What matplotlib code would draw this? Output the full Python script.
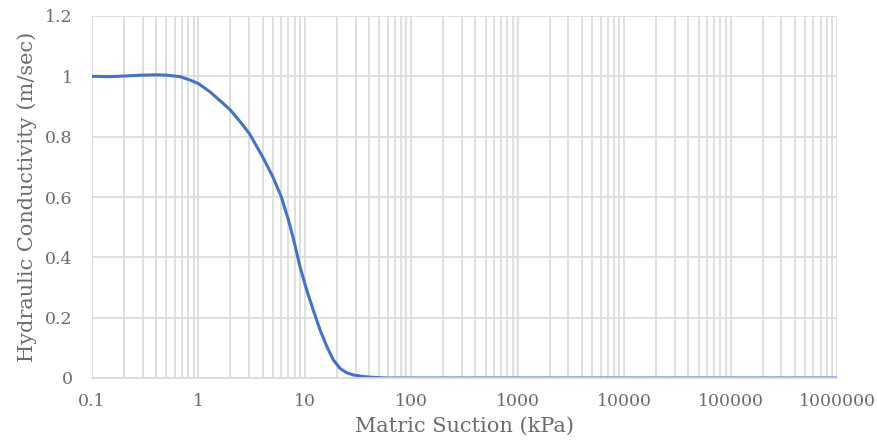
import matplotlib
matplotlib.use("Agg")
import matplotlib.pyplot as plt
from matplotlib.ticker import LogLocator, FixedLocator, FixedFormatter, NullFormatter

suction = [0.1, 0.15, 0.2, 0.3, 0.4, 0.5, 0.67, 0.83, 1.0, 1.28, 1.6, 2.0, 2.5,
           3.0, 4.0, 5.0, 6.0, 7.0, 7.8, 9.0, 10.4, 12.0, 13.9, 16.1, 18.5,
           21.4, 24.5, 28.6, 35, 44, 60, 100, 1000, 10000, 100000, 1000000]
conductivity = [1.0, 0.999, 1.001, 1.004, 1.005, 1.004, 0.999, 0.988, 0.976,
                0.949, 0.919, 0.888, 0.847, 0.811, 0.734, 0.667, 0.601, 0.524,
                0.462, 0.369, 0.292, 0.225, 0.159, 0.104, 0.060, 0.032, 0.018,
                0.010, 0.005, 0.002, 0.0, 0.0, 0.0, 0.0, 0.0, 0.0]

xticks = [0.1, 1, 10, 100, 1000, 10000, 100000, 1000000]
xtick_labels = ["0.1", "1", "10", "100", "1000", "10000", "100000", "1000000"]
yticks = [0, 0.2, 0.4, 0.6, 0.8, 1.0, 1.2]
ytick_labels = ["0", "0.2", "0.4", "0.6", "0.8", "1", "1.2"]

plt.rcParams['font.family'] = ['DejaVu Serif', 'Liberation Serif']
text_color = "#6b6b6b"
grid_color = "#d9d9d9"

fig = plt.figure(figsize=(8.78, 4.43), dpi=100)
ax = fig.add_axes([92/878, 65/443, 745/878, 362/443])

ax.set_xscale("log")
ax.set_xlim(0.1, 1000000)
ax.set_ylim(0, 1.2)

ax.xaxis.set_major_locator(FixedLocator(xticks))
ax.xaxis.set_major_formatter(FixedFormatter(xtick_labels))
ax.xaxis.set_minor_locator(LogLocator(base=10, subs=range(2, 10), numticks=100))
ax.xaxis.set_minor_formatter(NullFormatter())
ax.yaxis.set_major_locator(FixedLocator(yticks))
ax.yaxis.set_major_formatter(FixedFormatter(ytick_labels))

ax.grid(True, which="both", axis="x", color=grid_color, linewidth=1.2)
ax.grid(True, which="major", axis="y", color=grid_color, linewidth=1.2)
ax.set_axisbelow(True)

for s in ax.spines.values():
    s.set_visible(False)
ax.spines["bottom"].set_visible(True)
ax.spines["bottom"].set_color(grid_color)
ax.spines["bottom"].set_linewidth(1.2)

ax.tick_params(axis="both", which="both", length=0, colors=text_color, labelsize=12.5)
ax.tick_params(axis="x", pad=11)
ax.tick_params(axis="y", pad=14)

ax.plot(suction, conductivity, color="#4472C4", linewidth=2.2,
        solid_capstyle="round", solid_joinstyle="round")

ax.set_xlabel("Matric Suction (kPa)", fontsize=15, color=text_color, labelpad=5)
ax.set_ylabel("Hydraulic Conductivity (m/sec)", fontsize=15, color=text_color, labelpad=6)

fig.savefig("out.png", dpi=100)
